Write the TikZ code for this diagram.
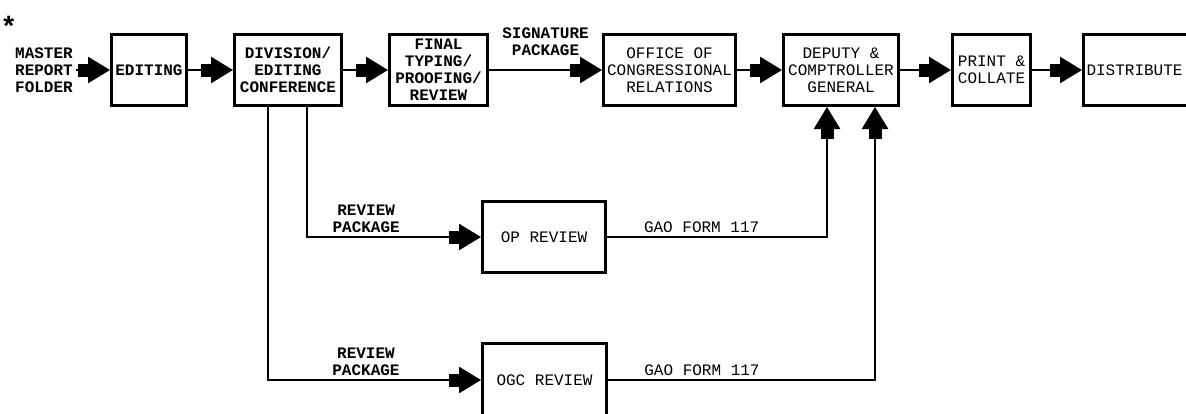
\documentclass[tikz,border=0pt]{standalone}
\usepackage{fontspec}
\usepackage{tikz}
\usetikzlibrary{positioning,arrows.meta}
\newfontfamily\typer{Liberation Mono}
\newcommand\gaofont{\typer\fontsize{8}{8.5}\selectfont}
\tikzset{
  gaobox/.style={draw, line width=1.5pt, align=center, font=\gaofont\bfseries,
    inner sep=1.5pt, minimum height=35.5pt, fill=white},
  gaothin/.style={gaobox, font=\gaofont},
  gaoarrow/.style={line width=1.3pt,
    -{Rectangle[length=5pt,width=6.5pt,sep=0pt]Triangle[length=11pt,width=13pt,sep=0pt]}},
  gaolabel/.style={font=\gaofont\bfseries, align=center, inner sep=1.5pt},
  gaothinlabel/.style={gaolabel, font=\gaofont},
}

\begin{document}
\begin{tikzpicture}[x=0.5pt, y=-0.5pt]
  \useasboundingbox (0,0) rectangle (1186,413);
  \fill[white] (0,0) rectangle (1186,413);
  \clip (0,0) rectangle (1186,413);
  % top row
  \node[gaobox, minimum width=37.5pt] (edit) at (149,70) {EDITING};
  \node[gaobox, minimum width=53.5pt, right=22.5pt of edit] (divconf) {DIVISION/\\EDITING\\CONFERENCE};
  \node[gaobox, minimum width=49pt, right=22.5pt of divconf] (final) {FINAL\\TYPING/\\PROOFING/\\REVIEW};
  \node[gaothin, minimum width=66pt, right=56.5pt of final] (ocr) {OFFICE OF\\CONGRESSIONAL\\RELATIONS};
  \node[gaothin, minimum width=57.5pt, right=22.5pt of ocr] (deputy) {DEPUTY \&\\COMPTROLLER\\GENERAL};
  \node[gaothin, minimum width=39pt, right=25.5pt of deputy] (print) {PRINT \&\\COLLATE};
  \node[gaothin, minimum width=55pt, text width=52pt, align=left, right=25pt of print] (distrib) {DISTRIBUTE};
  \node[gaolabel, align=left] (master) at (44,70) {MASTER\\REPORT\\FOLDER};
  \node[font=\typer\bfseries\fontsize{14}{14}\selectfont, inner sep=0pt, anchor=west] (star) at (0,26) {*};
  % review boxes
  \node[gaothin, minimum width=61.5pt] (opreview) at (544,237) {OP REVIEW};
  \node[gaothin, minimum width=62pt, minimum height=36.5pt] (ogcreview) at (544.5,380) {OGC REVIEW};
  % main flow
  \draw[gaoarrow] (master) -- (edit);
  \draw[gaoarrow] (edit) -- (divconf);
  \draw[gaoarrow] (divconf) -- (final);
  \draw[gaoarrow] (final) -- node[gaolabel, above=5pt]{SIGNATURE\\PACKAGE} (ocr);
  \draw[gaoarrow] (ocr) -- (deputy);
  \draw[gaoarrow] (deputy) -- (print);
  \draw[gaoarrow] (print) -- (distrib);
  % review branches
  \draw[gaoarrow] ([xshift=9.5pt]divconf.south) |- node[gaolabel, above, pos=0.67]{REVIEW\\PACKAGE} (opreview.west);
  \draw[gaoarrow] ([xshift=-10pt]divconf.south) |- node[gaolabel, above, pos=0.73]{REVIEW\\PACKAGE} (ogcreview.west);
  \draw[gaoarrow] (opreview.east) -| node[gaothinlabel, above, pos=0.215]{GAO FORM 117} ([xshift=-7pt]deputy.south);
  \draw[gaoarrow] (ogcreview.east) -| node[gaothinlabel, above, pos=0.176]{GAO FORM 117} ([xshift=17pt]deputy.south);
\end{tikzpicture}
\end{document}
